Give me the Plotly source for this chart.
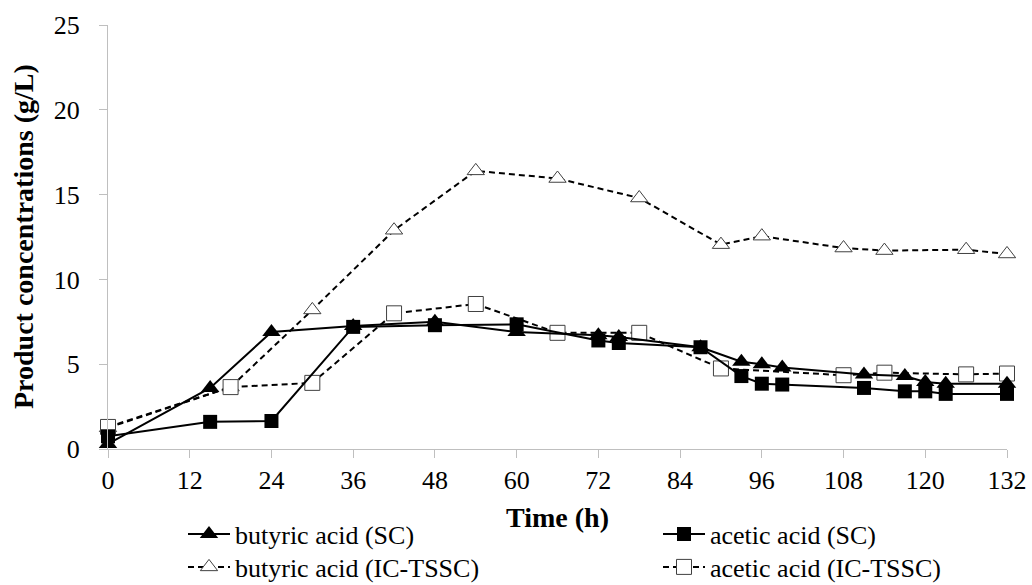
import plotly.graph_objects as go

# Sampling times (h) and product concentrations (g/L)
time_sc = [0, 15, 24, 36, 48, 60, 72, 75, 87, 93, 96, 99, 111, 117, 120, 123, 132]
butyric_sc = [0.3, 3.6, 6.9, 7.25, 7.5, 6.9, 6.7, 6.6, 6.0, 5.15, 5.0, 4.8, 4.4, 4.3, 3.95, 3.85, 3.85]
acetic_sc = [0.75, 1.6, 1.65, 7.2, 7.3, 7.35, 6.4, 6.25, 6.0, 4.3, 3.85, 3.8, 3.6, 3.4, 3.4, 3.25, 3.25]

time_ic_butyric = [0, 18, 30, 42, 54, 66, 78, 90, 96, 108, 114, 126, 132]
butyric_ic = [1.25, 3.65, 8.2, 12.9, 16.4, 15.95, 14.8, 12.05, 12.55, 11.85, 11.7, 11.75, 11.5]

time_ic_acetic = [0, 18, 30, 42, 54, 66, 78, 90, 108, 114, 126, 132]
acetic_ic = [1.3, 3.65, 3.9, 8.0, 8.55, 6.85, 6.85, 4.75, 4.35, 4.5, 4.4, 4.45]

x_ticks = list(range(0, 133, 12))
y_ticks = [0, 5, 10, 15, 20, 25]

SERIF = "Liberation Serif, Times New Roman, serif"
AXIS_GRAY = "#bfbfbf"
OPEN_EDGE = "#404040"

fig = go.Figure()

# IC-TSSC series (dashed, open markers) drawn first so the SC series sit on top
fig.add_trace(go.Scatter(
    x=time_ic_butyric, y=butyric_ic, name="butyric acid (IC-TSSC)",
    mode="lines+markers", cliponaxis=False, legend="legend3",
    line=dict(color="black", width=2, dash="6px,4px"),
    marker=dict(symbol="triangle-up", size=15, color="white",
                line=dict(color=OPEN_EDGE, width=1)),
))
fig.add_trace(go.Scatter(
    x=time_ic_acetic, y=acetic_ic, name="acetic acid (IC-TSSC)",
    mode="lines+markers", cliponaxis=False, legend="legend4",
    line=dict(color="black", width=2, dash="6px,4px"),
    marker=dict(symbol="square", size=15, color="white",
                line=dict(color=OPEN_EDGE, width=1)),
))

# SC series (solid, filled markers)
fig.add_trace(go.Scatter(
    x=time_sc, y=butyric_sc, name="butyric acid (SC)",
    mode="lines+markers", cliponaxis=False, legend="legend",
    line=dict(color="black", width=2),
    marker=dict(symbol="triangle-up", size=16, color="black"),
))
fig.add_trace(go.Scatter(
    x=time_sc, y=acetic_sc, name="acetic acid (SC)",
    mode="lines+markers", cliponaxis=False, legend="legend2",
    line=dict(color="black", width=2),
    marker=dict(symbol="square", size=14, color="black"),
))

# One single-entry legend per slot: two columns, two rows below the axis title
legend_common = dict(
    orientation="v",
    xref="container", yref="container",
    xanchor="left", yanchor="middle",
    font=dict(family=SERIF, size=26, color="black"),
    itemwidth=42,
    bgcolor="rgba(0,0,0,0)",
    borderwidth=0,
)
col_left, col_right = 183 / 1032, 658 / 1032
row_top, row_bottom = 1 - 534 / 585, 1 - 567 / 585

fig.update_layout(
    width=1032, height=585,
    margin=dict(l=108, r=25, t=25, b=136, autoexpand=False),
    paper_bgcolor="white", plot_bgcolor="white",
    font=dict(family=SERIF, color="black"),
    showlegend=True,
    legend=dict(x=col_left, y=row_top, **legend_common),
    legend2=dict(x=col_right, y=row_top, **legend_common),
    legend3=dict(x=col_left, y=row_bottom, **legend_common),
    legend4=dict(x=col_right, y=row_bottom, **legend_common),
    xaxis=dict(
        range=[0, 132], tickmode="array", tickvals=x_ticks,
        showline=True, linecolor=AXIS_GRAY, linewidth=1,
        ticks="outside", ticklen=8, tickcolor=AXIS_GRAY, tickwidth=1,
        showgrid=False, zeroline=False,
        tickfont=dict(family=SERIF, size=26, color="black"),
        ticklabelstandoff=0,
        title=dict(text="<b>Time (h)</b>", standoff=13,
                   font=dict(family=SERIF, size=28, color="black")),
    ),
    yaxis=dict(
        range=[0, 25], tickmode="array", tickvals=y_ticks,
        showline=True, linecolor=AXIS_GRAY, linewidth=1,
        ticks="outside", ticklen=8, tickcolor=AXIS_GRAY, tickwidth=1,
        showgrid=False, zeroline=False,
        tickfont=dict(family=SERIF, size=26, color="black"),
        ticklabelstandoff=14,
    ),
    annotations=[dict(
        text="<b>Product concentrations (g/L)</b>",
        xref="paper", yref="paper", x=(23 - 108) / 899, y=0.5,
        xanchor="center", yanchor="middle", textangle=-90, showarrow=False,
        font=dict(family=SERIF, size=28, color="black"),
    )],
)

fig.write_html("out.html")
